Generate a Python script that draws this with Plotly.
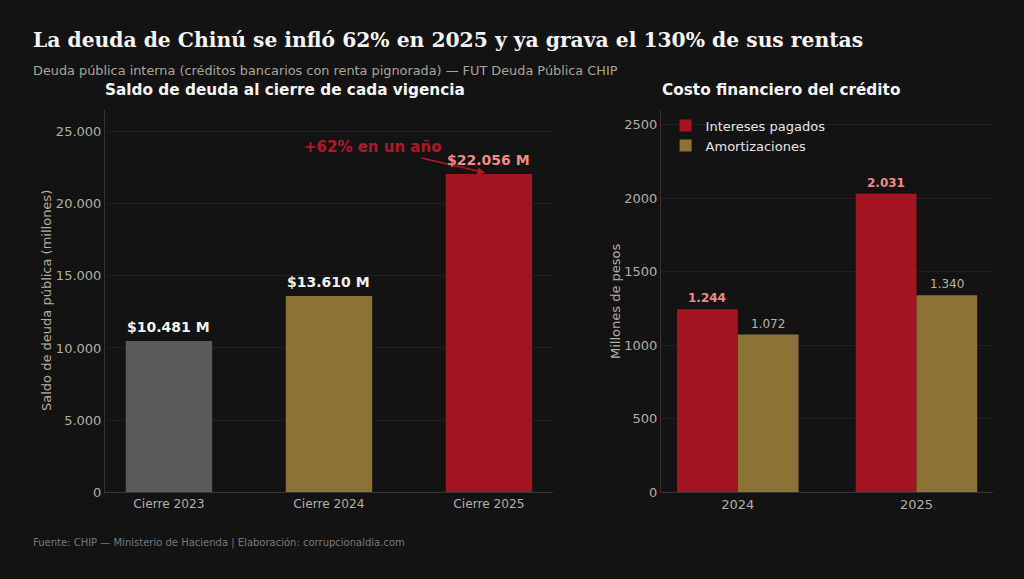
import plotly.graph_objects as go

# Datos (millones de pesos)
cierres = ["Cierre 2023", "Cierre 2024", "Cierre 2025"]
saldo = [10481, 13610, 22056]
saldo_colores = ["#5a5a5a", "#8c7335", "#a31621"]
saldo_label_col = ["#f2f2f2", "#f2f2f2", "#f08a8a"]

anios = ["2024", "2025"]
intereses = [1244, 2031]
amortizaciones = [1072, 1340]

saldo_ticks = [0, 5000, 10000, 15000, 20000, 25000]
saldo_ticktext = ["0", "5.000", "10.000", "15.000", "20.000", "25.000"]


def miles(v):
    return f"{v:,}".replace(",", ".")


BG = "#131313"
RED = "#a31621"
GOLD = "#8c7335"
TICK = "#b3ada3"
GRID = "#1f1f1f"
LINE = "#333333"
FONT = "DejaVu Sans"

fig = go.Figure()

fig.add_trace(go.Bar(
    x=cierres, y=saldo, marker_color=saldo_colores, marker_line_width=0,
    showlegend=False, xaxis="x", yaxis="y", width=0.54,
))
fig.add_trace(go.Bar(
    x=anios, y=intereses, name="Intereses pagados", marker_color=RED,
    marker_line_width=0, xaxis="x2", yaxis="y2",
))
fig.add_trace(go.Bar(
    x=anios, y=amortizaciones, name="Amortizaciones", marker_color=GOLD,
    marker_line_width=0, xaxis="x2", yaxis="y2",
))

axis_common = dict(showline=True, linecolor=LINE, linewidth=1, ticks="",
                   zeroline=False, automargin=False)

fig.update_layout(
    width=1024, height=579, autosize=False,
    paper_bgcolor=BG, plot_bgcolor=BG,
    margin=dict(l=0, r=0, t=0, b=0, pad=0),
    font=dict(family=FONT, color=TICK, size=13),
    barmode="group", bargap=0.32, bargroupgap=0,
    xaxis=dict(domain=[0.1025, 0.540], range=[-0.4, 2.4], showgrid=False,
               tickfont=dict(size=12.2, color=TICK), anchor="y", **axis_common),
    yaxis=dict(domain=[0.150, 0.810], range=[0, 26500], tickvals=saldo_ticks,
               ticktext=saldo_ticktext, gridcolor=GRID, anchor="x",
               tickfont=dict(size=13, color=TICK), **axis_common),
    xaxis2=dict(domain=[0.6455, 0.970], range=[-0.43, 1.43], showgrid=False,
                tickfont=dict(size=13, color=TICK), anchor="y2", **axis_common),
    yaxis2=dict(domain=[0.150, 0.810], range=[0, 2600], dtick=500,
                gridcolor=GRID, anchor="x2", tickformat="d",
                tickfont=dict(size=13, color=TICK), **axis_common),
    legend=dict(x=0.650, y=0.809, xanchor="left", yanchor="top",
                bgcolor="rgba(0,0,0,0)", font=dict(size=13, color="#e6e6e6"),
                traceorder="normal", tracegroupgap=0, itemwidth=30),
)

annotations = [
    dict(text="<b>La deuda de Chinú se infló 62% en 2025 y ya grava el 130% de sus rentas</b>",
         x=31 / 1024, y=1 - 40 / 579, xref="paper", yref="paper",
         xanchor="left", yanchor="middle", showarrow=False,
         font=dict(family="DejaVu Serif", size=20.3, color="#f5f5f5")),
    dict(text="Deuda pública interna (créditos bancarios con renta pignorada) — FUT Deuda Pública CHIP",
         x=31 / 1024, y=1 - 70 / 579, xref="paper", yref="paper",
         xanchor="left", yanchor="middle", showarrow=False,
         font=dict(size=12.85, color="#a8a39b")),
    dict(text="<b>Saldo de deuda al cierre de cada vigencia</b>",
         x=285 / 1024, y=1 - 90 / 579, xref="paper", yref="paper",
         xanchor="center", yanchor="middle", showarrow=False,
         font=dict(size=15.3, color="#f5f5f5")),
    dict(text="<b>Costo financiero del crédito</b>",
         x=781 / 1024, y=1 - 90 / 579, xref="paper", yref="paper",
         xanchor="center", yanchor="middle", showarrow=False,
         font=dict(size=15.3, color="#f5f5f5")),
    dict(text="Fuente: CHIP — Ministerio de Hacienda | Elaboración: corrupcionaldia.com",
         x=31 / 1024, y=1 - 543 / 579, xref="paper", yref="paper",
         xanchor="left", yanchor="middle", showarrow=False,
         font=dict(size=10, color="#777777")),
    # títulos de ejes
    dict(text="Saldo de deuda pública (millones)", textangle=-90,
         x=46 / 1024, y=1 - 301 / 579, xref="paper", yref="paper",
         xanchor="center", yanchor="middle", showarrow=False,
         font=dict(size=13, color=TICK)),
    dict(text="Millones de pesos", textangle=-90,
         x=615 / 1024, y=1 - 301 / 579, xref="paper", yref="paper",
         xanchor="center", yanchor="middle", showarrow=False,
         font=dict(size=13, color=TICK)),
    dict(text="<b>+62% en un año</b>", x=1.27, y=23900, xref="x", yref="y",
         showarrow=False, font=dict(size=15, color="#b0182a")),
    dict(text="", x=1.975, y=22150, ax=1.569, ay=23194, xref="x", yref="y",
         axref="x", ayref="y", showarrow=True, arrowhead=2, arrowsize=1,
         arrowwidth=1.5, arrowcolor="#b0182a"),
]

# Etiquetas de valor sobre las barras
for c, v, col in zip(cierres, saldo, saldo_label_col):
    annotations.append(dict(
        text=f"<b>${miles(v)} M</b>", x=c, y=v, xref="x", yref="y",
        yanchor="bottom", yshift=4, showarrow=False,
        font=dict(size=14, color=col)))

for i, (a, vi, va) in enumerate(zip(anios, intereses, amortizaciones)):
    annotations.append(dict(
        text=f"<b>{miles(vi)}</b>", x=i - 0.17, y=vi, xref="x2", yref="y2",
        yanchor="bottom", yshift=2, showarrow=False,
        font=dict(size=12, color="#f08a8a")))
    annotations.append(dict(
        text=miles(va), x=i + 0.17, y=va, xref="x2", yref="y2",
        yanchor="bottom", yshift=2, showarrow=False,
        font=dict(size=12, color="#b8b2a8")))

fig.update_layout(annotations=annotations)

fig.write_html("out.html", config={"displayModeBar": False},
               post_script="document.body.style.margin='0px';")
